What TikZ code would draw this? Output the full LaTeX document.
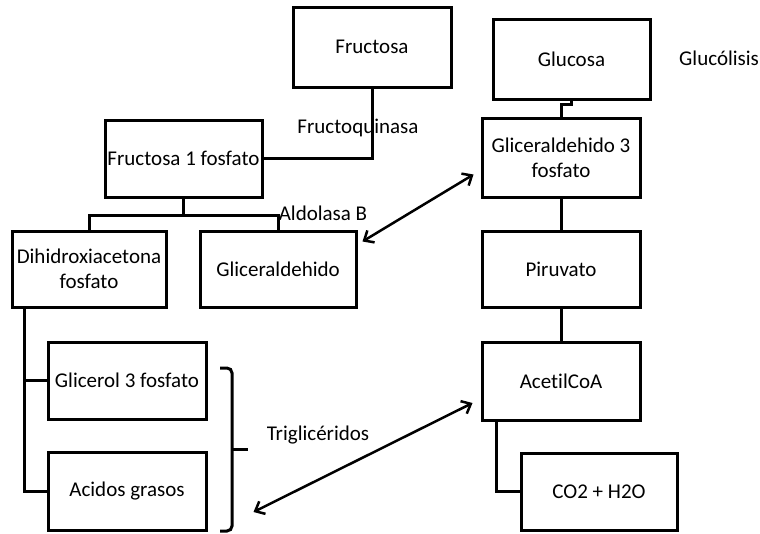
\documentclass[tikz,border=0pt]{standalone}
\usepackage{fontspec}
\setmainfont{Carlito}[Ligatures={NoCommon}]
\usetikzlibrary{arrows.meta,calc}
\begin{document}
\begin{tikzpicture}[x=1pt,y=-1pt,
  box/.style={draw,line width=3pt,minimum width=#1,inner sep=0pt,align=center,font=\fontsize{21}{25}\selectfont},
  box/.default=156pt,
  conn/.style={line width=3pt},
  biarrow/.style={line width=2.5pt,{Straight Barb[length=8pt,width=14pt]}-{Straight Barb[length=8pt,width=14pt]}},
  lbl/.style={inner sep=0pt,font=\fontsize{21}{25}\selectfont}]
\useasboundingbox (0,0) rectangle (760,533);
% boxes
\node[box=158pt,minimum height=80pt] (fru) at (372,47) {Fructosa};
\node[box=157pt,minimum height=80pt] (glu) at (571.5,59) {Glucosa};
\node[box=157pt,minimum height=77pt] (f1f) at (183.5,158.5) {Fructosa 1 fosfato};
\node[box=158pt,minimum height=79pt] (g3f) at (561,157.5) {Gliceraldehido 3\\fosfato};
\node[box=154pt,minimum height=76pt] (dha) at (89,269) {Dihidroxiacetona\\fosfato};
\node[box=156pt,minimum height=76pt] (gli) at (278,269) {Gliceraldehido};
\node[box=158pt,minimum height=76pt] (pir) at (561,269) {Piruvato};
\node[box=158pt,minimum height=77pt] (g3p) at (127,380.5) {Glicerol 3 fosfato};
\node[box=158pt,minimum height=78pt] (acoa) at (561,381) {AcetilCoA};
\node[box=158pt,minimum height=78pt] (ag) at (127,491) {Acidos grasos};
\node[box=156pt,minimum height=77pt] (co2) at (599,491.5) {CO2 + H2O};
% labels
\node[lbl] (lfq) at (358,128) {Fructoquinasa};
\node[lbl] (lab) at (323,213) {Aldolasa B};
\node[lbl,anchor=west] (lgl) at (679,58) {Glucólisis};
\node[lbl] (ltg) at (318,435) {Triglicéridos};
% connectors
\draw[conn] (fru.south) |- (f1f.east);
\draw[conn] (glu.south) -- ++(0,4) -| (g3f.north);
\draw[conn] (f1f.south) -- ++(0,17) coordinate (j1);
\draw[conn] (dha.north) |- (j1) -| (gli.north);
\draw[conn] (g3f.south) -- (pir.north);
\draw[conn] (pir.south) -- (acoa.north);
\coordinate (dtop) at ($(dha.south west)+(14,0)$);
\draw[conn] (dtop) |- (ag.west);
\draw[conn] (dtop) |- (g3p.west);
\coordinate (atop) at ($(acoa.south west)+(16,0)$);
\draw[conn] (atop) |- (co2.west);
% arrows
\coordinate (a1) at ($(gli.north east)+(5,12)$);
\coordinate (a2) at ($(g3f.west)+(-7,17)$);
\draw[biarrow] (a1) -- (a2);
\coordinate (b1) at ($(acoa.west)+(-8,22)$);
\coordinate (b2) at ($(ag.east)+(46,21)$);
\draw[biarrow] (b1) -- (b2);
% brace
\draw[line width=3pt,rounded corners=5pt] (220,368) -- (232,368) -- (232,531) -- (220,531);
\draw[line width=3pt] (232,449) -- (248,449);
\end{tikzpicture}
\end{document}
